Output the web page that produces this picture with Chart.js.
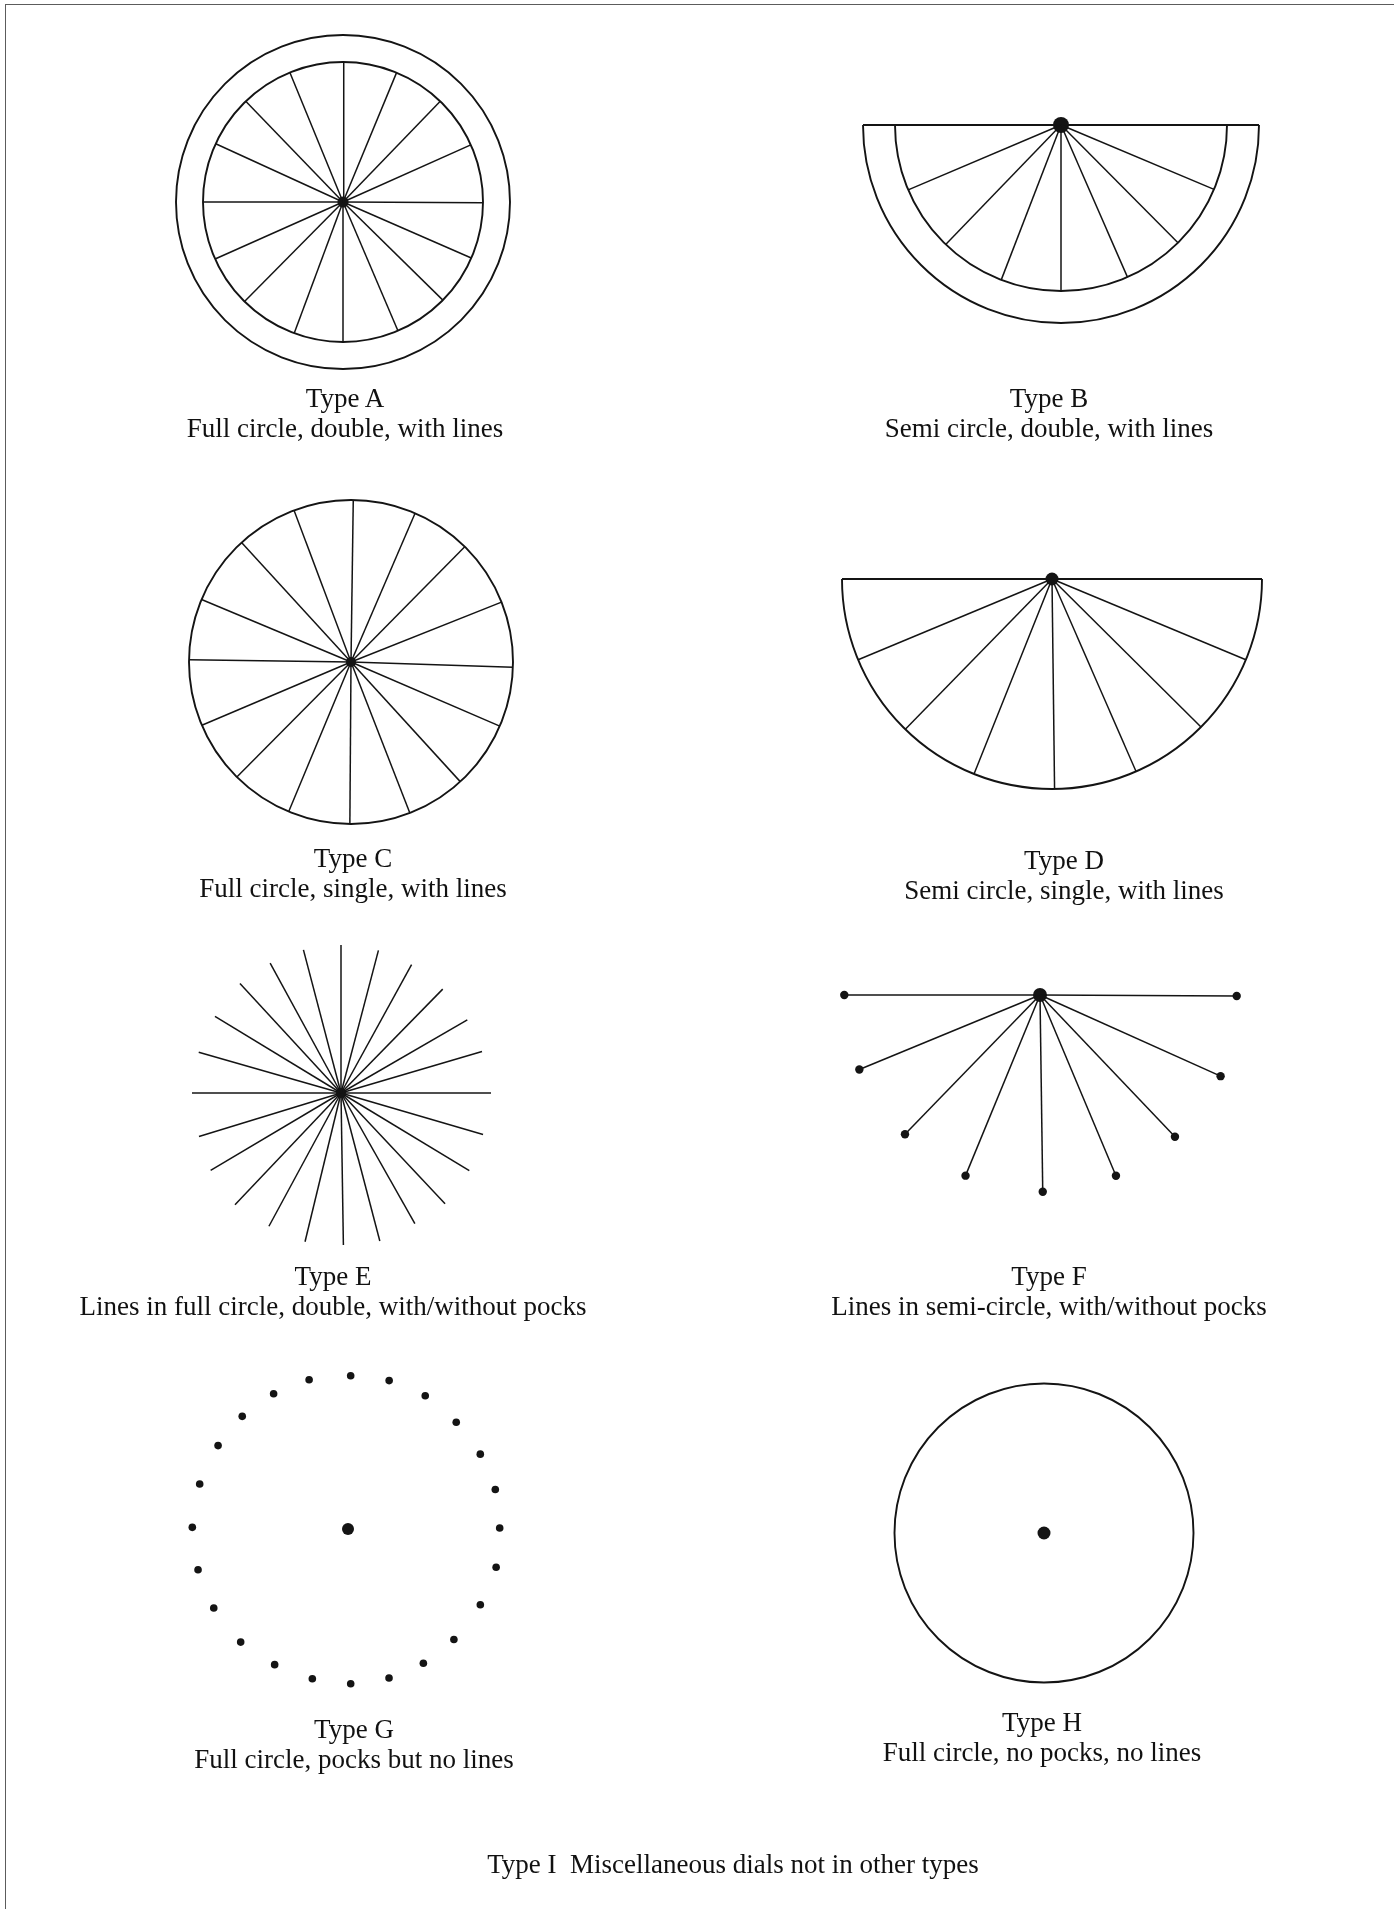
<!DOCTYPE html>
<html>
<head>
<meta charset="utf-8">
<title>Dial types</title>
<script src="https://cdn.jsdelivr.net/npm/chart.js@4.4.1/dist/chart.umd.min.js"></script>
<style>
  html, body { margin: 0; padding: 0; background: #fff; }
  #page { position: relative; width: 1394px; height: 1909px; overflow: hidden; }
  #frame { position: absolute; left: 5px; top: 4px; right: -4px; bottom: -4px;
           border-top: 1.5px solid #5c5c5c; border-left: 1.5px solid #5c5c5c; }
  #dials { position: absolute; left: 0; top: 0; }
  .cap { position: absolute; width: 700px; margin-left: -350px; text-align: center;
         font-family: "Liberation Serif", "Times New Roman", serif; font-size: 27px;
         line-height: 30px; color: #111; white-space: nowrap; }
</style>
</head>
<body>
<div id="page">
  <div id="frame"></div>
  <canvas id="dials" width="1394" height="1909"></canvas>
</div>
<script>
// captions
const typeNames = ['Type A', 'Type B', 'Type C', 'Type D', 'Type E', 'Type F', 'Type G', 'Type H'];
const typeNotes = [
    'Full circle, double, with lines',
    'Semi circle, double, with lines',
    'Full circle, single, with lines',
    'Semi circle, single, with lines',
    'Lines in full circle, double, with/without pocks',
    'Lines in semi-circle, with/without pocks',
    'Full circle, pocks but no lines',
    'Full circle, no pocks, no lines'
];
const footNote = 'Type I\u00a0\u00a0Miscellaneous dials not in other types';

// angles are compass degrees (0 = 12 o'clock, clockwise), lengths in px
const ringsA = [167, 140];
const spokesA = [0.3, 22.5, 44, 65.9, 90.3, 113.6, 134.5, 156.9, 180, 200.4, 224.7, 246, 270, 294.6, 316, 337.7];

const ringsB = [198, 166];
const spokesB = [112.8, 135.2, 156.4, 180, 201.1, 224, 247];

const ringsC = [162];
const spokesC = [0.8, 23.3, 44.6, 68.3, 91.9, 113.3, 137.6, 158.7, 180.4, 202.6, 224.8, 247, 270.8, 292.7, 317.5, 339.4];

const ringsD = [210];
const spokesD = [112.6, 134.8, 156.4, 179.3, 201.8, 224.3, 247.4];

const spokesE = [0, 14.7, 28.8, 44.4, 59.9, 73.6, 90, 106.3, 121.2, 136.8, 150.5, 165.3,
                 179.1, 193.6, 208.4, 223.5, 239.3, 253, 270, 286, 301.3, 317.3, 331.4, 345.3];
const spokeLenE = [148, 147.5, 146.5, 145.4, 146, 147, 150, 148, 150, 152, 150, 153,
                   152, 153, 151.5, 154, 151.6, 148.5, 149, 148, 147.5, 149, 148, 148];

const pocksF = [90.3, 114.2, 136.4, 157.2, 179.2, 202.4, 224.1, 247.6, 270];
const pockLenF = [196.7, 198, 195.7, 196, 196.7, 195.4, 194, 195.4, 195.7];

const pocksG = [1, 15.5, 30.1, 45.4, 60.5, 75, 89.6, 104.5, 119.8, 136.2, 150.7, 164.6,
                179, 193.4, 208.4, 223.5, 239.5, 254.8, 270.6, 286.9, 302.7, 316.8, 331.2, 345.4];
const pockRadG = [153.3, 154, 154, 152, 152, 152.5, 151.7, 153, 152.5, 153, 154, 154.5,
                  154.7, 153.9, 154.2, 155.9, 155.8, 155.4, 155.7, 155, 154.4, 154.5, 154.4, 154.3];

const ringsH = [149.5];

// page layout: dial centres, hub size, caption anchor
const panels = {
    A: { cx: 343, cy: 202, hub: 5.5, cap: [345, 383] },
    B: { cx: 1061, cy: 125, hub: 8, cap: [1049, 383] },
    C: { cx: 351, cy: 662, hub: 5, cap: [353, 843] },
    D: { cx: 1052, cy: 579, hub: 6.5, cap: [1064, 845] },
    E: { cx: 341, cy: 1093, hub: 5, cap: [333, 1261] },
    F: { cx: 1040, cy: 995, hub: 7, cap: [1049, 1261] },
    G: { cx: 348, cy: 1529, hub: 6, cap: [354, 1714] },
    H: { cx: 1044, cy: 1533, hub: 6.5, cap: [1042, 1707] }
};
const footPos = [733, 1849];

const ink = '#141414';

function polar(p, deg, r) {
    const a = deg * Math.PI / 180;
    return { x: p.cx + r * Math.sin(a), y: p.cy - r * Math.cos(a) };
}

function lineSet(a, b, width) {
    return {
        type: 'scatter',
        showLine: true,
        data: [a, b],
        borderColor: ink,
        borderWidth: width,
        pointRadius: 0,
        pointHoverRadius: 0
    };
}

const datasets = [];
function addSpokes(p, angles, lens) {
    angles.forEach((deg, i) => {
        const len = Array.isArray(lens) ? lens[i] : lens;
        datasets.push(lineSet({ x: p.cx, y: p.cy }, polar(p, deg, len), 1.5));
    });
}

addSpokes(panels.A, spokesA, ringsA[1]);
addSpokes(panels.B, spokesB, ringsB[1]);
datasets.push(lineSet(polar(panels.B, 270, ringsB[0]), polar(panels.B, 90, ringsB[0]), 1.8));
addSpokes(panels.C, spokesC, ringsC[0]);
addSpokes(panels.D, spokesD, ringsD[0]);
datasets.push(lineSet(polar(panels.D, 270, ringsD[0]), polar(panels.D, 90, ringsD[0]), 1.8));
addSpokes(panels.E, spokesE, spokeLenE);
addSpokes(panels.F, pocksF, pockLenF);

// pocks
datasets.push({
    type: 'scatter',
    data: pocksF.map((deg, i) => polar(panels.F, deg, pockLenF[i])),
    pointRadius: 4.2,
    pointBackgroundColor: ink,
    pointBorderWidth: 0
});
datasets.push({
    type: 'scatter',
    data: pocksG.map((deg, i) => polar(panels.G, deg, pockRadG[i])),
    pointRadius: 3.8,
    pointBackgroundColor: ink,
    pointBorderWidth: 0
});

// gnomon hubs
const hubKeys = Object.keys(panels);
datasets.push({
    type: 'scatter',
    data: hubKeys.map(k => ({ x: panels[k].cx, y: panels[k].cy })),
    pointRadius: hubKeys.map(k => panels[k].hub),
    pointBackgroundColor: ink,
    pointBorderWidth: 0
});

// rings: full circles or lower halves
const rings = [
    { p: panels.A, r: ringsA[0], half: false },
    { p: panels.A, r: ringsA[1], half: false },
    { p: panels.B, r: ringsB[0], half: true },
    { p: panels.B, r: ringsB[1], half: true },
    { p: panels.C, r: ringsC[0], half: false },
    { p: panels.D, r: ringsD[0], half: true },
    { p: panels.H, r: ringsH[0], half: false }
];

const ringPlugin = {
    id: 'dialRings',
    beforeDatasetsDraw(chart) {
        const { ctx, scales: { x, y } } = chart;
        ctx.save();
        ctx.strokeStyle = ink;
        ctx.lineWidth = 1.9;
        rings.forEach(rg => {
            const px = x.getPixelForValue(rg.p.cx);
            const py = y.getPixelForValue(rg.p.cy);
            const pr = x.getPixelForValue(rg.p.cx + rg.r) - px;
            ctx.beginPath();
            ctx.arc(px, py, pr, 0, rg.half ? Math.PI : Math.PI * 2);
            ctx.stroke();
        });
        ctx.restore();
    }
};

new Chart(document.getElementById('dials'), {
    data: { datasets },
    options: {
        responsive: false,
        animation: false,
        events: [],
        layout: { padding: 0, autoPadding: false },
        plugins: {
            legend: { display: false },
            tooltip: { enabled: false }
        },
        scales: {
            x: { type: 'linear', min: 0, max: 1394, display: false },
            y: { type: 'linear', min: 0, max: 1909, reverse: true, display: false }
        }
    },
    plugins: [ringPlugin]
});

// captions as real text
const page = document.getElementById('page');
hubKeys.forEach((k, i) => {
    const d = document.createElement('div');
    d.className = 'cap';
    d.style.left = panels[k].cap[0] + 'px';
    d.style.top = panels[k].cap[1] + 'px';
    d.innerHTML = typeNames[i] + '<br>' + typeNotes[i];
    page.appendChild(d);
});
const foot = document.createElement('div');
foot.className = 'cap';
foot.style.left = footPos[0] + 'px';
foot.style.top = footPos[1] + 'px';
foot.textContent = footNote;
page.appendChild(foot);
</script>
</body>
</html>
